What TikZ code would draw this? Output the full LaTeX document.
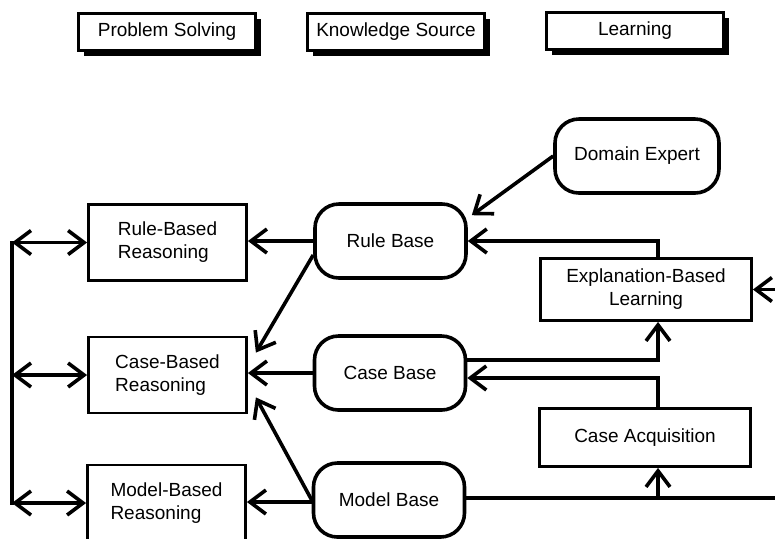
\documentclass[tikz,border=0pt]{standalone}
\usepackage{fontspec}
\setmainfont{Liberation Sans}
\usetikzlibrary{arrows.meta,shadows}

\begin{document}
\begin{tikzpicture}[x=0.5pt, y=-0.5pt, every node/.style={font=\fontsize{9.5}{11.5}\selectfont}]
  \tikzset{
    legendbox/.style={draw, line width=1.4pt, fill=white, minimum width=88.5pt, minimum height=18.5pt,
      drop shadow={shadow xshift=2.5pt, shadow yshift=-2.5pt, fill=black, opacity=1}},
    solver/.style={draw, line width=1.4pt, align=left, minimum width=79pt, minimum height=38pt},
    source/.style={draw, line width=1.8pt, rounded corners=12pt, align=center, minimum width=75.5pt, minimum height=37pt},
    learner/.style={draw, line width=1.4pt, align=center, minimum width=105.5pt, minimum height=31pt},
    link/.style={line width=1.8pt},
    flow/.style={link, -{Straight Barb[length=8pt,width=12pt]}},
    twoway/.style={link, {Straight Barb[length=8pt,width=12pt]}-{Straight Barb[length=8pt,width=12pt]}}
  }
  \useasboundingbox (0,0) rectangle (775,538);

  % Legend
  \node[legendbox] (ps) at (167,32) {Problem Solving};
  \node[legendbox] (ks) at (396,32) {Knowledge Source};
  \node[legendbox] (ln) at (635,31) {Learning};

  % Problem solving
  \node[solver] (rbr) at (167.5,242.5) {Rule-Based\\Reasoning};
  \node[solver] (cbr) at (167.5,375) {Case-Based\\Reasoning};
  \node[solver] (mbr) at (166.5,503) {Model-Based\\Reasoning};

  % Knowledge sources
  \node[source] (rb) at (390.5,241) {Rule Base};
  \node[source] (cb) at (390,373) {Case Base};
  \node[source] (mb) at (389,500) {Model Base};
  \node[source, minimum width=82pt] (de) at (637,156) {Domain Expert};

  % Learning
  \node[learner] (ebl) at (646,289.5) {Explanation-Based\\Learning};
  \node[learner, minimum height=29pt] (ca) at (645,437.5) {Case Acquisition};

  \coordinate (bus) at (12,0);
  \coordinate (feed) at (658,0);
  \coordinate (outer) at (790,0);

  % bus on the left
  \draw[link, line cap=rect] (bus |- rbr.west) -- (bus |- mbr.west);
  \foreach \n in {rbr,cbr,mbr}
    \draw[twoway] (bus |- \n.west) -- (\n.west);

  % sources to solvers
  \draw[flow] (rb.west) -- (rb.west -| rbr.east);
  \draw[flow] ([yshift=-7pt]rb.west) -- ([xshift=4pt,yshift=-8.5pt]cbr.north east);
  \draw[flow] (cb.west) -- (cb.west -| cbr.east);
  \draw[flow] (mb.west) -- ([xshift=4pt,yshift=8.5pt]cbr.south east);
  \draw[flow] ([yshift=-1pt]mb.west) -- ([yshift=-1pt]mb.west -| mbr.east);
  \draw[flow] (de.west) -- ([xshift=2pt,yshift=-6.5pt]rb.north east);

  % learning loops
  \draw[flow] (feed |- ebl.north) |- (rb.east);
  \draw[flow] ([yshift=6.5pt]cb.east) -| (feed |- ebl.south);
  \draw[flow] (feed |- ca.north) |- ([yshift=-2.5pt]cb.east);
  \draw[link] ([yshift=1pt]mb.east) -- ([yshift=1pt]mb.east -| outer);
  \draw[flow] ([yshift=1pt]mb.east -| feed) -- (feed |- ca.south);
  \draw[flow] (outer |- ebl.east) -- (ebl.east);
\end{tikzpicture}
\end{document}
